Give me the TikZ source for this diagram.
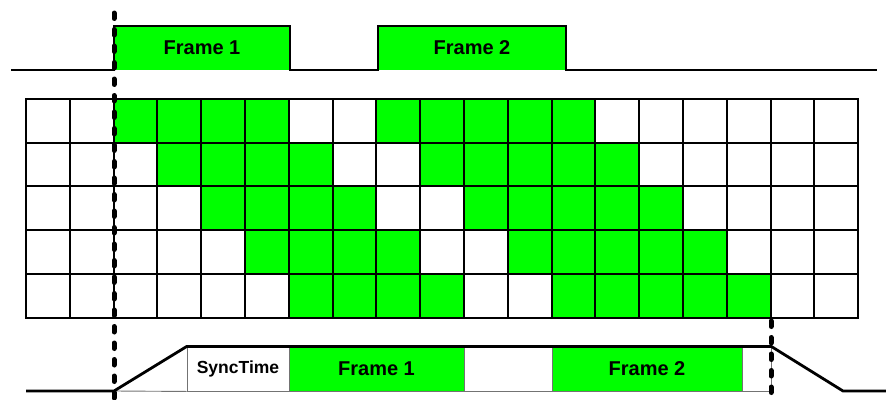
\documentclass[tikz,border=0pt]{standalone}
\usepackage{fontspec}
\setmainfont{Liberation Sans}
\usepackage{xcolor}
\definecolor{frmgreen}{RGB}{0,255,0}

\begin{document}
\begin{tikzpicture}[x=1pt,y=-1pt,
  sig/.style={line width=2.8pt,line join=miter},
  gridline/.style={line width=2pt,line cap=rect},
  cutline/.style={line width=5pt,line cap=round,dash pattern=on 5.5pt off 11pt},
  lbl/.style={font=\fontsize{20}{23}\selectfont\bfseries},
  slot/.style={draw=black!55,line width=0.9pt,inner sep=0pt,minimum height=44pt},
  gslot/.style={slot,fill=frmgreen}]
\useasboundingbox (0,0) rectangle (886,399);
% top trigger signal
\fill[frmgreen] (114,26) rectangle (290,70);
\fill[frmgreen] (378,26) rectangle (566,70);
\draw[sig] (11,70) -- (114,70) |- (290,26) -- (290,70) -- (378,70) |- (566,26) -- (566,70) -- (877,70);
\node[lbl] (topA) at (202,48) {Frame 1};
\node[lbl] (topB) at (472,48) {Frame 2};
% row timing grid
\foreach \r in {0,...,4}{
  \fill[frmgreen] ({26+(2+\r)*43.8},{99+\r*43.7}) rectangle ++(4*43.8,43.7);
  \fill[frmgreen] ({26+(8+\r)*43.8},{99+\r*43.7}) rectangle ++(5*43.8,43.7);
}
\foreach \c in {0,...,19} \draw[gridline] ({26+\c*43.8},99) -- ({26+\c*43.8},317.5);
\foreach \r in {0,...,5} \draw[gridline] (26,{99+\r*43.7}) -- (858.2,{99+\r*43.7});
% output signal
\node[slot,minimum width=102pt,font=\fontsize{17.5}{20}\selectfont\bfseries] (sync) at (238,369) {SyncTime};
\node[gslot,minimum width=175pt,lbl] (outA) at (376.5,369) {Frame 1};
\node[slot,minimum width=88pt] (gap) at (508,369) {};
\node[gslot,minimum width=190pt,lbl] (outB) at (647,369) {Frame 2};
\node[slot,minimum width=29pt] (tail) at (756.5,369) {};
\draw[black!55,line width=0.9pt] (114,391) -- (sync.south west);
\draw[sig] (26,391) -- (114,391) -- (sync.north west) -- (tail.north east) -- (843,391) -- (886,391);
% exposure start / readout end
\draw[cutline] (114,13) -- (114,399);
\draw[cutline] (771,321) -- (771,399);
\end{tikzpicture}
\end{document}
